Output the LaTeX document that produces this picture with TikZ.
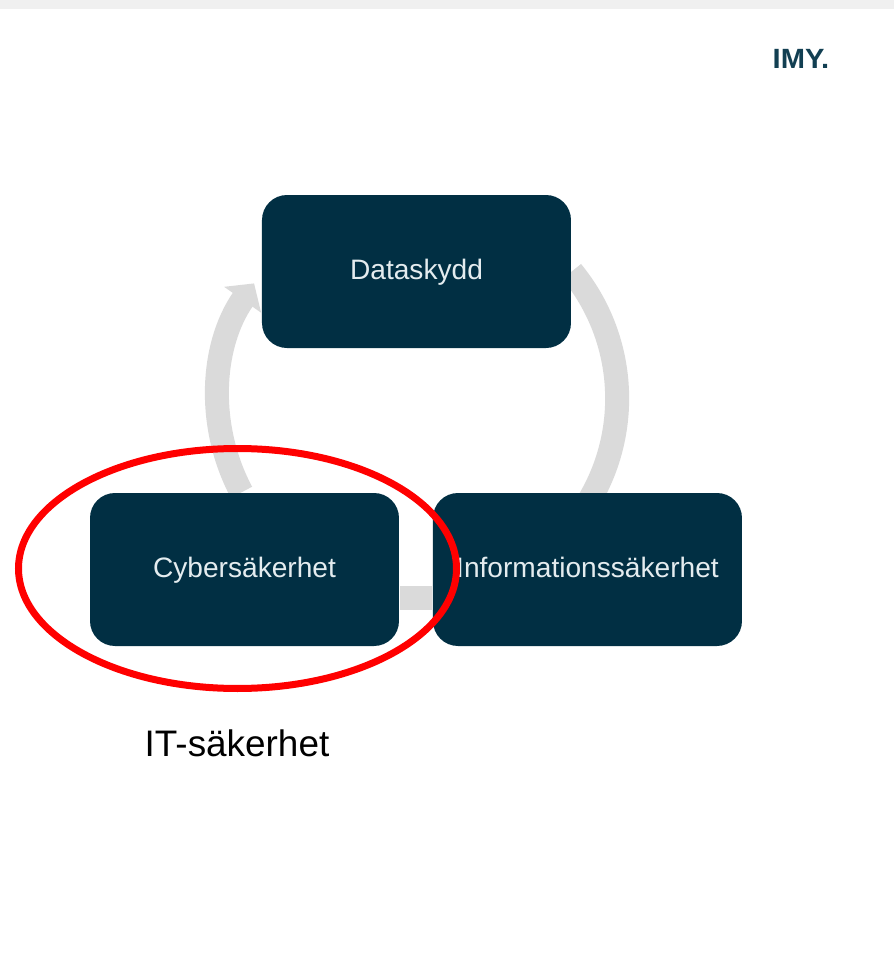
\documentclass[tikz,border=0pt]{standalone}
\usepackage{xcolor}
\usepackage{fontspec}
\setmainfont{Liberation Sans}
\usetikzlibrary{shapes.geometric,calc,arrows.meta,backgrounds}
\definecolor{boxblue}{HTML}{012F43}
\definecolor{boxtext}{HTML}{E4ECEF}
\definecolor{cyclegray}{HTML}{DADADA}
\definecolor{logoblue}{HTML}{123F52}
\tikzset{
    areabox/.style={draw=none, fill=boxblue, rounded corners=0.25cm, minimum width=3.09cm, minimum height=1.53cm, text=boxtext, text height=0.2cm, text depth=0.05cm, font=\fontsize{8}{10}\selectfont},
    cyclelink/.style={draw=cyclegray, line width=0.24cm}
}

\begin{document}
\begin{tikzpicture}
    \useasboundingbox (0,0) rectangle (8.94,9.57);
    \fill[black!6] (0,9.48) rectangle (8.94,9.57);
    \node[areabox] (dataskydd) at (4.165,6.855) {Dataskydd};
    \node[areabox] (cyber) at (2.445,3.875) {Cybersäkerhet};
    \node[areabox] (info) at (5.875,3.875) {Informationssäkerhet};
    \begin{scope}[on background layer]
        \draw[cyclelink] (dataskydd.east) arc (39.4:-31:2);
        \draw[cyclelink] ([yshift=-0.28cm]info.west) -- ([yshift=-0.28cm]cyber.east);
        \draw[cyclelink, -{Triangle[length=0.2cm,width=0.44cm]}] ([xshift=-0.03cm]cyber.north) arc (208.1:145:2);
    \end{scope}
    \node[draw=red, line width=0.07cm, ellipse, minimum width=4.38cm, minimum height=2.4cm, inner sep=0pt] (cyberring) at (2.375,3.885) {};
    \node[font=\fontsize{10.5}{12}\selectfont] (itlabel) at (2.37,2.14) {IT-säkerhet};
    \node[text=logoblue, xscale=0.92, yscale=0.88, font=\bfseries\fontsize{9}{10}\selectfont] (logo) at (8.01,8.985) {IMY.};
\end{tikzpicture}
\end{document}
